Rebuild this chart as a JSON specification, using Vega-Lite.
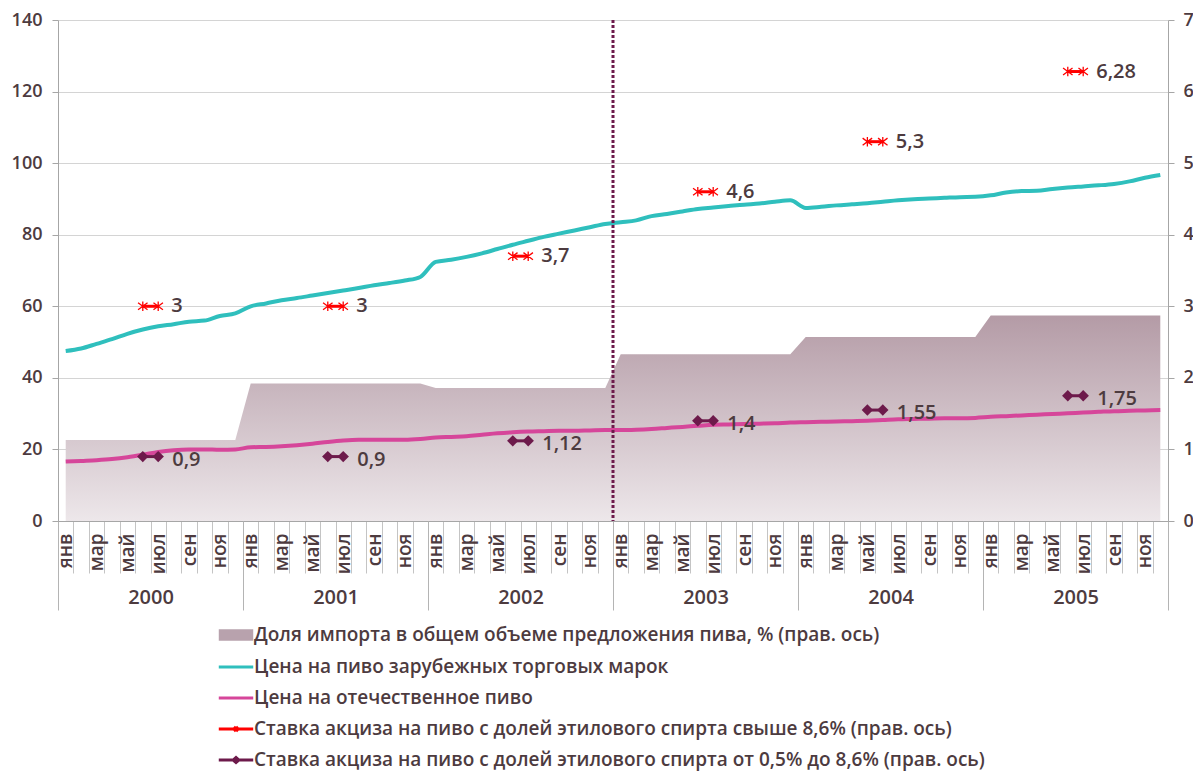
{
  "$schema": "https://vega.github.io/schema/vega-lite/v6.json",
  "width": 1110,
  "height": 501,
  "autosize": {"type": "none"},
  "padding": {"left": 58, "top": 20, "right": 25, "bottom": 251},
  "background": "white",
  "datasets": {
    "prices": [
      {"m":0,"year":2000,"foreign":47.5,"domestic":16.6,"imp":1.13},
      {"m":1,"year":2000,"foreign":48.2,"domestic":16.8,"imp":1.13},
      {"m":2,"year":2000,"foreign":49.5,"domestic":17.0,"imp":1.13},
      {"m":3,"year":2000,"foreign":50.8,"domestic":17.3,"imp":1.13},
      {"m":4,"year":2000,"foreign":52.3,"domestic":17.8,"imp":1.13},
      {"m":5,"year":2000,"foreign":53.5,"domestic":18.5,"imp":1.13},
      {"m":6,"year":2000,"foreign":54.4,"domestic":19.3,"imp":1.13},
      {"m":7,"year":2000,"foreign":55.0,"domestic":19.8,"imp":1.13},
      {"m":8,"year":2000,"foreign":55.7,"domestic":20.0,"imp":1.13},
      {"m":9,"year":2000,"foreign":56.0,"domestic":20.0,"imp":1.13},
      {"m":10,"year":2000,"foreign":57.3,"domestic":19.9,"imp":1.13},
      {"m":11,"year":2000,"foreign":58.0,"domestic":20.0,"imp":1.13},
      {"m":12,"year":2001,"foreign":60.0,"domestic":20.6,"imp":1.92},
      {"m":13,"year":2001,"foreign":60.8,"domestic":20.7,"imp":1.92},
      {"m":14,"year":2001,"foreign":61.7,"domestic":20.9,"imp":1.92},
      {"m":15,"year":2001,"foreign":62.3,"domestic":21.2,"imp":1.92},
      {"m":16,"year":2001,"foreign":63.0,"domestic":21.6,"imp":1.92},
      {"m":17,"year":2001,"foreign":63.7,"domestic":22.1,"imp":1.92},
      {"m":18,"year":2001,"foreign":64.4,"domestic":22.5,"imp":1.92},
      {"m":19,"year":2001,"foreign":65.1,"domestic":22.7,"imp":1.92},
      {"m":20,"year":2001,"foreign":65.9,"domestic":22.7,"imp":1.92},
      {"m":21,"year":2001,"foreign":66.5,"domestic":22.7,"imp":1.92},
      {"m":22,"year":2001,"foreign":67.2,"domestic":22.7,"imp":1.92},
      {"m":23,"year":2001,"foreign":68.2,"domestic":22.9,"imp":1.92},
      {"m":24,"year":2002,"foreign":72.4,"domestic":23.3,"imp":1.86},
      {"m":25,"year":2002,"foreign":73.0,"domestic":23.5,"imp":1.86},
      {"m":26,"year":2002,"foreign":73.8,"domestic":23.7,"imp":1.86},
      {"m":27,"year":2002,"foreign":74.8,"domestic":24.1,"imp":1.86},
      {"m":28,"year":2002,"foreign":76.0,"domestic":24.5,"imp":1.86},
      {"m":29,"year":2002,"foreign":77.2,"domestic":24.8,"imp":1.86},
      {"m":30,"year":2002,"foreign":78.3,"domestic":25.0,"imp":1.86},
      {"m":31,"year":2002,"foreign":79.4,"domestic":25.1,"imp":1.86},
      {"m":32,"year":2002,"foreign":80.3,"domestic":25.2,"imp":1.86},
      {"m":33,"year":2002,"foreign":81.2,"domestic":25.2,"imp":1.86},
      {"m":34,"year":2002,"foreign":82.1,"domestic":25.3,"imp":1.86},
      {"m":35,"year":2002,"foreign":83.0,"domestic":25.4,"imp":1.86},
      {"m":36,"year":2003,"foreign":83.5,"domestic":25.4,"imp":2.33},
      {"m":37,"year":2003,"foreign":84.0,"domestic":25.5,"imp":2.33},
      {"m":38,"year":2003,"foreign":85.2,"domestic":25.7,"imp":2.33},
      {"m":39,"year":2003,"foreign":85.8,"domestic":26.0,"imp":2.33},
      {"m":40,"year":2003,"foreign":86.5,"domestic":26.3,"imp":2.33},
      {"m":41,"year":2003,"foreign":87.2,"domestic":26.6,"imp":2.33},
      {"m":42,"year":2003,"foreign":87.6,"domestic":26.9,"imp":2.33},
      {"m":43,"year":2003,"foreign":88.0,"domestic":27.0,"imp":2.33},
      {"m":44,"year":2003,"foreign":88.4,"domestic":27.1,"imp":2.33},
      {"m":45,"year":2003,"foreign":88.7,"domestic":27.2,"imp":2.33},
      {"m":46,"year":2003,"foreign":89.2,"domestic":27.3,"imp":2.33},
      {"m":47,"year":2003,"foreign":89.6,"domestic":27.5,"imp":2.33},
      {"m":48,"year":2004,"foreign":87.5,"domestic":27.6,"imp":2.57},
      {"m":49,"year":2004,"foreign":87.8,"domestic":27.7,"imp":2.57},
      {"m":50,"year":2004,"foreign":88.2,"domestic":27.8,"imp":2.57},
      {"m":51,"year":2004,"foreign":88.5,"domestic":27.9,"imp":2.57},
      {"m":52,"year":2004,"foreign":88.8,"domestic":28.0,"imp":2.57},
      {"m":53,"year":2004,"foreign":89.2,"domestic":28.2,"imp":2.57},
      {"m":54,"year":2004,"foreign":89.6,"domestic":28.4,"imp":2.57},
      {"m":55,"year":2004,"foreign":89.9,"domestic":28.5,"imp":2.57},
      {"m":56,"year":2004,"foreign":90.1,"domestic":28.6,"imp":2.57},
      {"m":57,"year":2004,"foreign":90.3,"domestic":28.7,"imp":2.57},
      {"m":58,"year":2004,"foreign":90.5,"domestic":28.7,"imp":2.57},
      {"m":59,"year":2004,"foreign":90.6,"domestic":28.8,"imp":2.57},
      {"m":60,"year":2005,"foreign":91.0,"domestic":29.1,"imp":2.87},
      {"m":61,"year":2005,"foreign":91.8,"domestic":29.3,"imp":2.87},
      {"m":62,"year":2005,"foreign":92.2,"domestic":29.5,"imp":2.87},
      {"m":63,"year":2005,"foreign":92.3,"domestic":29.7,"imp":2.87},
      {"m":64,"year":2005,"foreign":92.8,"domestic":29.9,"imp":2.87},
      {"m":65,"year":2005,"foreign":93.2,"domestic":30.1,"imp":2.87},
      {"m":66,"year":2005,"foreign":93.5,"domestic":30.3,"imp":2.87},
      {"m":67,"year":2005,"foreign":93.8,"domestic":30.5,"imp":2.87},
      {"m":68,"year":2005,"foreign":94.2,"domestic":30.7,"imp":2.87},
      {"m":69,"year":2005,"foreign":94.9,"domestic":30.8,"imp":2.87},
      {"m":70,"year":2005,"foreign":95.9,"domestic":30.9,"imp":2.87},
      {"m":71,"year":2005,"foreign":96.7,"domestic":31.0,"imp":2.87}
    ],
    "excise": [
      {"m":5,"year":2000,"high":3,"low":0.9},
      {"m":6,"year":2000,"high":3,"low":0.9,"high_label":"3","low_label":"0,9"},
      {"m":17,"year":2001,"high":3,"low":0.9},
      {"m":18,"year":2001,"high":3,"low":0.9,"high_label":"3","low_label":"0,9"},
      {"m":29,"year":2002,"high":3.7,"low":1.12},
      {"m":30,"year":2002,"high":3.7,"low":1.12,"high_label":"3,7","low_label":"1,12"},
      {"m":41,"year":2003,"high":4.6,"low":1.4},
      {"m":42,"year":2003,"high":4.6,"low":1.4,"high_label":"4,6","low_label":"1,4"},
      {"m":52,"year":2004,"high":5.3,"low":1.55},
      {"m":53,"year":2004,"high":5.3,"low":1.55,"high_label":"5,3","low_label":"1,55"},
      {"m":65,"year":2005,"high":6.28,"low":1.75},
      {"m":66,"year":2005,"high":6.28,"low":1.75,"high_label":"6,28","low_label":"1,75"}
    ],
    "series": [
      {"series":"Доля импорта в общем объеме предложения пива, % (прав. ось)"},
      {"series":"Цена на пиво зарубежных торговых марок"},
      {"series":"Цена на отечественное пиво"},
      {"series":"Ставка акциза на пиво с долей этилового спирта свыше 8,6% (прав. ось)"},
      {"series":"Ставка акциза на пиво с долей этилового спирта от 0,5% до 8,6% (прав. ось)"}
    ],
    "split": [{"boundary": 35.5}]
  },
  "resolve": {"scale": {"y": "independent"}, "axis": {"x": "independent", "y": "independent"}},
  "layer": [
    {
      "data": {"name": "prices"},
      "mark": {"type": "area", "interpolate": "linear", "color": {"gradient": "linear", "x1": 0, "y1": 0, "x2": 0, "y2": 1, "stops": [{"offset": 0, "color": "#b49ba6"}, {"offset": 1, "color": "#ede7ea"}]}},
      "encoding": {
        "x": {"field": "m", "type": "quantitative", "scale": {"domain": [-0.5, 71.5], "nice": false, "zero": false},
          "axis": {"orient": "bottom", "title": null, "grid": false, "labels": false, "tickSize": 52, "tickColor": "#c4c4c4", "domainColor": "#a6a6a6",
            "values": [-0.5,0.5,1.5,2.5,3.5,4.5,5.5,6.5,7.5,8.5,9.5,10.5,11.5,12.5,13.5,14.5,15.5,16.5,17.5,18.5,19.5,20.5,21.5,22.5,23.5,24.5,25.5,26.5,27.5,28.5,29.5,30.5,31.5,32.5,33.5,34.5,35.5,36.5,37.5,38.5,39.5,40.5,41.5,42.5,43.5,44.5,45.5,46.5,47.5,48.5,49.5,50.5,51.5,52.5,53.5,54.5,55.5,56.5,57.5,58.5,59.5,60.5,61.5,62.5,63.5,64.5,65.5,66.5,67.5,68.5,69.5,70.5,71.5]}},
        "y": {"field": "imp", "type": "quantitative", "scale": {"domain": [0, 7], "nice": false},
          "axis": {"orient": "right", "title": null, "grid": false, "values": [0,1,2,3,4,5,6,7], "tickSize": 6, "labelPadding": 9}}
      }
    },
    {
      "data": {"name": "prices"},
      "mark": {"type": "line", "interpolate": "monotone", "color": "#2fbfbd", "strokeWidth": 4},
      "encoding": {
        "x": {"field": "m", "type": "quantitative", "scale": {"domain": [-0.5, 71.5], "nice": false, "zero": false},
          "axis": {"orient": "bottom", "title": null, "grid": false, "ticks": false, "tickSize": 0, "domain": false, "labelAngle": -90, "labelPadding": 12, "labelFontSize": 19, "labelFlush": false, "labelOverlap": false, "labelBound": false,
            "values": [0,2,4,6,8,10,12,14,16,18,20,22,24,26,28,30,32,34,36,38,40,42,44,46,48,50,52,54,56,58,60,62,64,66,68,70],
            "labelExpr": "['янв','мар','май','июл','сен','ноя'][floor((datum.value % 12) / 2)]"}},
        "y": {"field": "foreign", "type": "quantitative", "scale": {"domain": [0, 140], "nice": false},
          "axis": {"orient": "left", "title": null, "grid": true, "values": [0,20,40,60,80,100,120,140], "tickSize": 6, "labelPadding": 10}}
      }
    },
    {
      "data": {"name": "prices"},
      "mark": {"type": "line", "interpolate": "monotone", "color": "#d6469a", "strokeWidth": 4},
      "encoding": {
        "x": {"field": "m", "type": "quantitative", "scale": {"domain": [-0.5, 71.5], "nice": false, "zero": false},
          "axis": {"orient": "bottom", "title": null, "grid": false, "labels": false, "domain": false, "tickSize": 89, "tickColor": "#b4b4b4",
            "values": [-0.5, 11.5, 23.5, 35.5, 47.5, 59.5, 71.5]}},
        "y": {"field": "domestic", "type": "quantitative", "scale": {"domain": [0, 140], "nice": false}, "axis": null}
      }
    },
    {
      "data": {"name": "split"},
      "mark": {"type": "rule", "color": "#6d1a4b", "strokeWidth": 3, "strokeDash": [3, 2]},
      "encoding": {
        "x": {"field": "boundary", "type": "quantitative", "scale": {"domain": [-0.5, 71.5], "nice": false, "zero": false},
          "axis": {"orient": "bottom", "title": null, "grid": false, "ticks": false, "tickSize": 0, "domain": false, "labelPadding": 66, "labelFontSize": 20, "labelFlush": false, "labelOverlap": false, "labelBound": false,
            "values": [5.5, 17.5, 29.5, 41.5, 53.5, 65.5],
            "labelExpr": "'' + (2000 + floor(datum.value / 12))"}}
      }
    },
    {
      "data": {"name": "excise"},
      "mark": {"type": "line", "color": "#ff0000", "strokeWidth": 3},
      "encoding": {
        "x": {"field": "m", "type": "quantitative", "scale": {"domain": [-0.5, 71.5], "nice": false, "zero": false}, "axis": null},
        "y": {"field": "high", "type": "quantitative", "scale": {"domain": [0, 7], "nice": false}, "axis": null},
        "detail": {"field": "year", "type": "nominal"}
      }
    },
    {
      "data": {"name": "excise"},
      "mark": {"type": "point", "shape": "M-1,-0.75L1,0.75M-1,0.75L1,-0.75M0,-1V1", "filled": false, "color": "#ff0000", "strokeWidth": 1.3, "size": 90, "opacity": 1},
      "encoding": {
        "x": {"field": "m", "type": "quantitative", "scale": {"domain": [-0.5, 71.5], "nice": false, "zero": false}, "axis": null},
        "y": {"field": "high", "type": "quantitative", "scale": {"domain": [0, 7], "nice": false}, "axis": null}
      }
    },
    {
      "data": {"name": "excise"},
      "transform": [{"filter": "datum.high_label"}],
      "mark": {"type": "text", "align": "left", "baseline": "middle", "dx": 13, "font": "Open Sans", "fontSize": 20, "fontWeight": 600, "color": "#4d3b3f"},
      "encoding": {
        "x": {"field": "m", "type": "quantitative", "scale": {"domain": [-0.5, 71.5], "nice": false, "zero": false}, "axis": null},
        "y": {"field": "high", "type": "quantitative", "scale": {"domain": [0, 7], "nice": false}, "axis": null},
        "text": {"field": "high_label"}
      }
    },
    {
      "data": {"name": "excise"},
      "mark": {"type": "line", "color": "#6d1a4b", "strokeWidth": 3},
      "encoding": {
        "x": {"field": "m", "type": "quantitative", "scale": {"domain": [-0.5, 71.5], "nice": false, "zero": false}, "axis": null},
        "y": {"field": "low", "type": "quantitative", "scale": {"domain": [0, 7], "nice": false}, "axis": null},
        "detail": {"field": "year", "type": "nominal"}
      }
    },
    {
      "data": {"name": "excise"},
      "mark": {"type": "point", "shape": "diamond", "filled": true, "color": "#6d1a4b", "size": 130, "opacity": 1},
      "encoding": {
        "x": {"field": "m", "type": "quantitative", "scale": {"domain": [-0.5, 71.5], "nice": false, "zero": false}, "axis": null},
        "y": {"field": "low", "type": "quantitative", "scale": {"domain": [0, 7], "nice": false}, "axis": null}
      }
    },
    {
      "data": {"name": "excise"},
      "transform": [{"filter": "datum.low_label"}],
      "mark": {"type": "text", "align": "left", "baseline": "middle", "dx": 14, "dy": 3, "font": "Open Sans", "fontSize": 20, "fontWeight": 600, "color": "#4d3b3f"},
      "encoding": {
        "x": {"field": "m", "type": "quantitative", "scale": {"domain": [-0.5, 71.5], "nice": false, "zero": false}, "axis": null},
        "y": {"field": "low", "type": "quantitative", "scale": {"domain": [0, 7], "nice": false}, "axis": null},
        "text": {"field": "low_label"}
      }
    },
    {
      "data": {"name": "series"},
      "mark": {"type": "point", "opacity": 0, "strokeWidth": 3, "filled": false},
      "encoding": {
        "stroke": {"field": "series", "type": "nominal",
          "scale": {"domain": [
            "Доля импорта в общем объеме предложения пива, % (прав. ось)",
            "Цена на пиво зарубежных торговых марок",
            "Цена на отечественное пиво",
            "Ставка акциза на пиво с долей этилового спирта свыше 8,6% (прав. ось)",
            "Ставка акциза на пиво с долей этилового спирта от 0,5% до 8,6% (прав. ось)"],
            "range": ["#b8a2ad", "#2fbfbd", "#d6469a", "#ff0000", "#6d1a4b"]},
          "legend": {"title": null, "orient": "none", "legendX": 162, "legendY": 599, "direction": "vertical", "symbolSize": 824, "symbolStrokeWidth": 3, "symbolOpacity": 1,
            "labelFont": "Open Sans", "labelFontSize": 19, "labelFontWeight": 600, "labelColor": "#4d3b3f", "labelLimit": 1000, "labelOffset": 2, "rowPadding": 5, "padding": 0, "offset": 0}},
        "shape": {"field": "series", "type": "nominal",
          "scale": {"domain": [
            "Доля импорта в общем объеме предложения пива, % (прав. ось)",
            "Цена на пиво зарубежных торговых марок",
            "Цена на отечественное пиво",
            "Ставка акциза на пиво с долей этилового спирта свыше 8,6% (прав. ось)",
            "Ставка акциза на пиво с долей этилового спирта от 0,5% до 8,6% (прав. ось)"],
            "range": [
              "M-1.2,-0.3H1.2M-1.2,-0.2H1.2M-1.2,-0.1H1.2M-1.2,0H1.2M-1.2,0.1H1.2M-1.2,0.2H1.2M-1.2,0.3H1.2",
              "M-1.2,0H1.2",
              "M-1.2,0H1.2",
              "M-1.2,0H1.2M-0.15,-0.15L0.15,0.15M-0.15,0.15L0.15,-0.15",
              "M-1.2,0H1.2M-0.2,0L0,-0.18L0.2,0L0,0.18Z"]}}
      }
    }
  ],
  "config": {
    "view": {"stroke": null},
    "font": "Open Sans",
    "axis": {"labelFont": "Open Sans", "labelFontWeight": 600, "labelColor": "#4d3b3f", "labelFontSize": 18, "domainColor": "#a6a6a6", "tickColor": "#a6a6a6", "gridColor": "#d4d4d4", "gridWidth": 1}
  }
}
